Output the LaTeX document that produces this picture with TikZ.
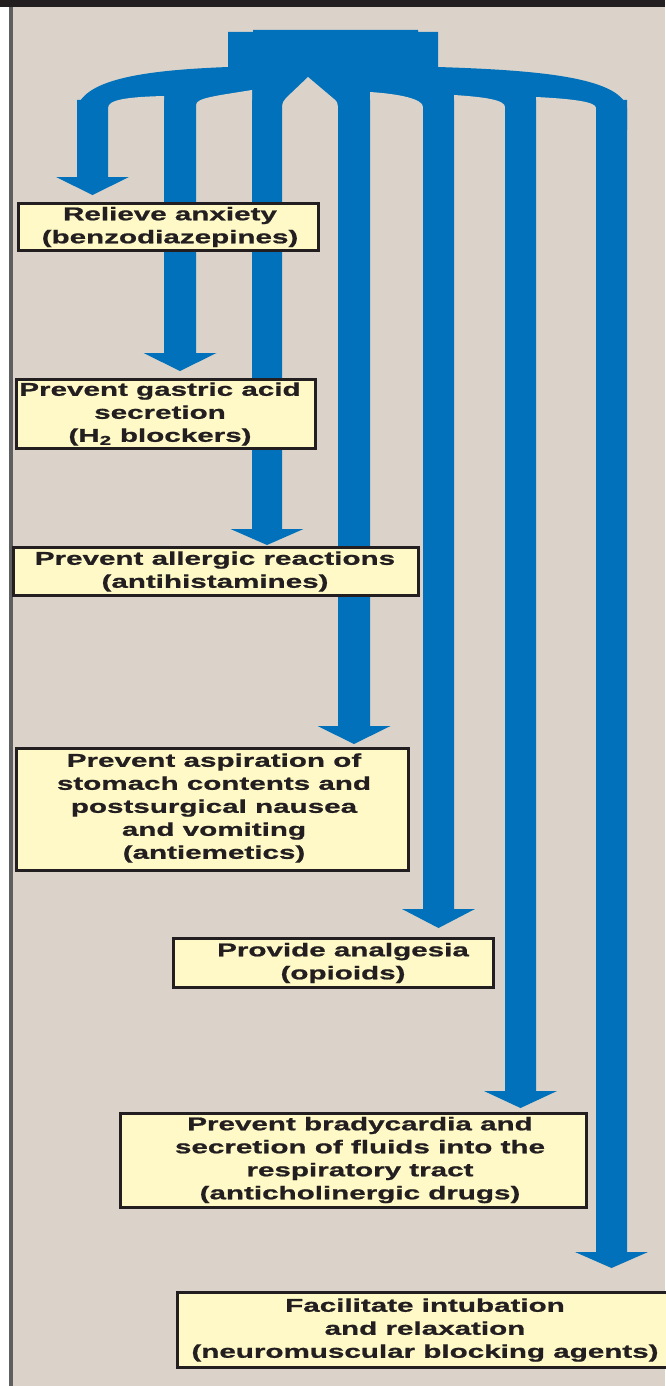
\documentclass[tikz,border=0pt]{standalone}
\usepackage{fontspec}
\setmainfont{Liberation Sans}
\newfontfamily\lblfont{Liberation Sans}[FakeStretch=1.6, BoldFeatures={FakeBold=1}]
\definecolor{bg}{RGB}{219,211,201}
\definecolor{treeblue}{RGB}{0,113,186}
\definecolor{boxyellow}{RGB}{255,249,200}
\definecolor{ink}{RGB}{35,31,32}
\definecolor{edgegray}{RGB}{95,95,97}
\newcommand{\colarrow}[4]{%
  \fill[treeblue] (#1,100) -- (#1,#3) -- ({(#1+#2)/2-36.5},#3) -- ({(#1+#2)/2},#4)
    -- ({(#1+#2)/2+36.5},#3) -- (#2,#3) -- (#2,100) -- cycle;}
\begin{document}
\begin{tikzpicture}[x=1pt,y=-1pt,
  lbl/.style={font=\lblfont\bfseries\fontsize{18.5}{23}\selectfont, align=center, text=ink, inner sep=0pt},
  box/.style={draw=ink, line width=2.6pt, fill=boxyellow, inner sep=0pt},
  gap/.style={fill=bg}]
\useasboundingbox (0,0) rectangle (665,1386);
% background
\fill[bg] (0,0) rectangle (665,1386);
\fill[white] (0,0) rectangle (9,1386);
\fill[edgegray] (9,0) rectangle (13,1386);
\fill[ink] (0,0) rectangle (665,7);
% trunk and band
\fill[treeblue] (77,130) -- (77,108) .. controls (85,78) and (150,70) .. (228,67)
  -- (228,32) -- (253,32) -- (253,30) -- (418,30) -- (418,32) -- (438,32) -- (438,67)
  .. controls (530,70) and (620,76) .. (627,108) -- (627,130) -- cycle;
% gaps between branches
\fill[gap] (108,140) -- (108,108) .. controls (108,100) and (125,97) .. (164,96) -- (164,140) -- cycle;
\fill[gap] (196,140) -- (196,105) .. controls (196,98) and (215,96) .. (252,90) -- (252,140) -- cycle;
\fill[gap] (282,140) -- (282,107) .. controls (282,103) and (284,100) .. (286,98) -- (308,77) -- (334,99) .. controls (337,101) and (338,104) .. (338,107) -- (338,140) -- cycle;
\fill[gap] (370,140) -- (370,92) .. controls (400,94) and (423,99) .. (423,107) -- (423,140) -- cycle;
\fill[gap] (454,140) -- (454,95) .. controls (485,97) and (505,100) .. (505,107) -- (505,140) -- cycle;
\fill[gap] (536,140) -- (536,97) .. controls (575,99) and (596,102) .. (596,108) -- (596,140) -- cycle;
% branch arrows
\colarrow{77}{108}{177}{195}
\colarrow{164}{196}{353}{371}
\colarrow{252}{282}{529}{545}
\colarrow{338}{370}{726}{744}
\colarrow{423}{454}{909}{928}
\colarrow{505}{536}{1091}{1108}
\colarrow{596}{627}{1252}{1268}
% boxes
\node[box, minimum width=300pt, minimum height=47pt] (b1) at (168.5,227) {};
\node[lbl] (t1) at (170,227) {Relieve anxiety\\(benzodiazepines)};
\node[box, minimum width=299pt, minimum height=69pt] (b2) at (166,414) {};
\node[lbl] (t2) at (160,414) {Prevent gastric acid\\secretion\\(H\textsubscript{2} blockers)};
\node[box, minimum width=405pt, minimum height=48pt] (b3) at (216,571.5) {};
\node[lbl] (t3) at (215,571.5) {Prevent allergic reactions\\(antihistamines)};
\node[box, minimum width=392pt, minimum height=122pt] (b4) at (212.5,809.5) {};
\node[lbl] (t4) at (214,808) {Prevent aspiration of\\stomach contents and\\postsurgical nausea\\and vomiting\\(antiemetics)};
\node[box, minimum width=320pt, minimum height=49pt] (b5) at (333.5,963) {};
\node[lbl] (t5) at (343,963) {Provide analgesia\\(opioids)};
\node[box, minimum width=466pt, minimum height=94pt] (b6) at (353.5,1160.5) {};
\node[lbl] (t6) at (360,1160) {Prevent bradycardia and\\secretion of fluids into the\\respiratory tract\\(anticholinergic drugs)};
\node[box, minimum width=495pt, minimum height=75pt] (b7) at (425,1330) {};
\node[lbl] (t7) at (425,1330) {Facilitate intubation\\and relaxation\\(neuromuscular blocking agents)};
\end{tikzpicture}
\end{document}
